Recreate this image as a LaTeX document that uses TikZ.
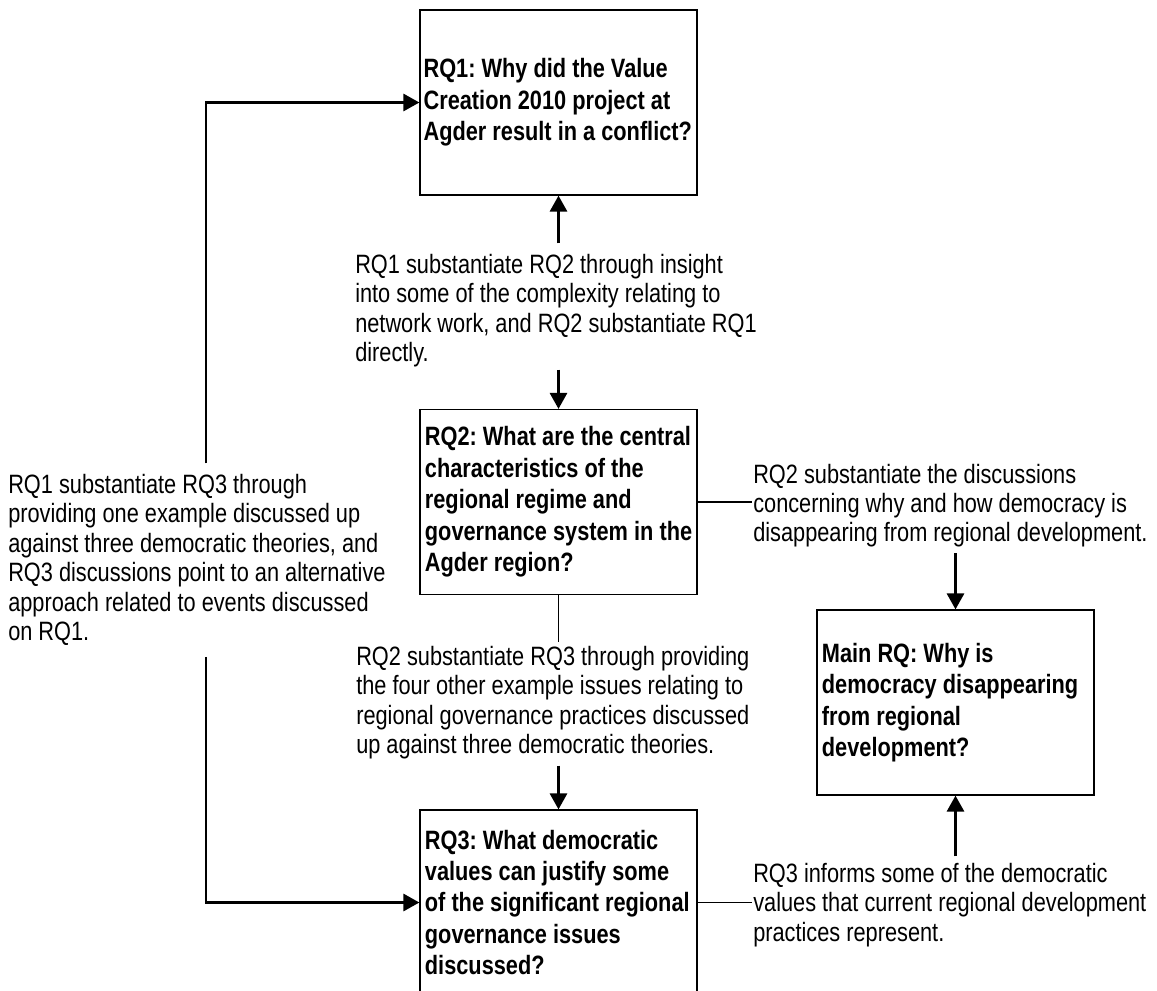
\documentclass[tikz,border=0pt]{standalone}
\usepackage{fontspec}
\setmainfont{Liberation Sans}[FakeStretch=0.82]
\usetikzlibrary{arrows.meta}
\frenchspacing
\begin{document}
\begin{tikzpicture}[x=0.75pt,y=-0.75pt,
  box/.style={draw, line width=1pt, fill=white, minimum width=207.75pt, minimum height=138.75pt, inner sep=0pt},
  btxt/.style={anchor=west, align=left, inner sep=0pt, font=\fontsize{19.9}{23.6}\selectfont\bfseries},
  lab/.style={anchor=north west, align=left, inner sep=0pt, font=\fontsize{19.9}{22.1}\selectfont},
  arr/.style={-{Triangle[length=12pt,width=13pt]}, line width=1.6pt},
  thin/.style={line width=0.9pt}]
\useasboundingbox (0,0) rectangle (1157,990);
% boxes
\node[box] (rq1) at (558.5,102.5) {};
\node[box] (rq2) at (558.5,502) {};
\node[box] (rq3) at (558.5,902.5) {};
\node[box] (mrq) at (955.5,702.5) {};
\node[btxt] (rq1t) at ([xshift=3pt]rq1.west) {RQ1: Why did the Value\\Creation 2010 project at\\Agder result in a conflict?};
\node[btxt] (rq2t) at ([xshift=4pt]rq2.west) {RQ2: What are the central\\characteristics of the\\regional regime and\\governance system in the\\Agder region?};
\node[btxt] (rq3t) at ([xshift=4pt]rq3.west) {RQ3: What democratic\\values can justify some\\of the significant regional\\governance issues\\discussed?};
\node[btxt] (mrqt) at ([xshift=4pt]mrq.west) {Main RQ: Why is\\democracy disappearing\\from regional\\development?};
% labels
\node[lab] (labA) at (355,254) {RQ1 substantiate RQ2 through insight\\into some of the complexity relating to\\network work, and RQ2 substantiate RQ1\\directly.};
\node[lab] (labB) at (356,646) {RQ2 substantiate RQ3 through providing\\the four other example issues relating to\\regional governance practices discussed\\up against three democratic theories.};
\node[lab] (labC) at (753,463.5) {RQ2 substantiate the discussions\\concerning why and how democracy is\\disappearing from regional development.};
\node[lab] (labD) at (753,863) {RQ3 informs some of the democratic\\values that current regional development\\practices represent.};
\node[lab] (labE) at (8,474) {RQ1 substantiate RQ3 through\\providing one example discussed up\\against three democratic theories, and\\RQ3 discussions point to an alternative\\approach related to events discussed\\on RQ1.};
\coordinate (lx) at (206,103);
% connectors
\draw[arr] ([yshift=8pt]labA.north -| rq1.south) -- (rq1.south);
\draw[arr] ([yshift=-1.5pt]labA.south -| rq2.north) -- (rq2.north);
\draw[thin] (rq2.south) -- ([yshift=3pt]labB.north -| rq2.south);
\draw[arr] ([yshift=-4.5pt]labB.south -| rq3.north) -- (rq3.north);
\draw[thin] (rq2.east) -- ([xshift=-1pt]rq2.east -| labC.west);
\draw[arr] ([yshift=-4pt]labC.south -| mrq.north) -- (mrq.north);
\draw[thin] (rq3.east) -- ([xshift=-1pt]rq3.east -| labD.west);
\draw[arr] ([yshift=5pt]labD.north -| mrq.south) -- (mrq.south);
\draw[arr] ([yshift=8pt]labE.north -| lx) |- (rq1.west);
\draw[arr] ([yshift=-8pt]labE.south -| lx) |- (rq3.west);
\end{tikzpicture}
\end{document}
